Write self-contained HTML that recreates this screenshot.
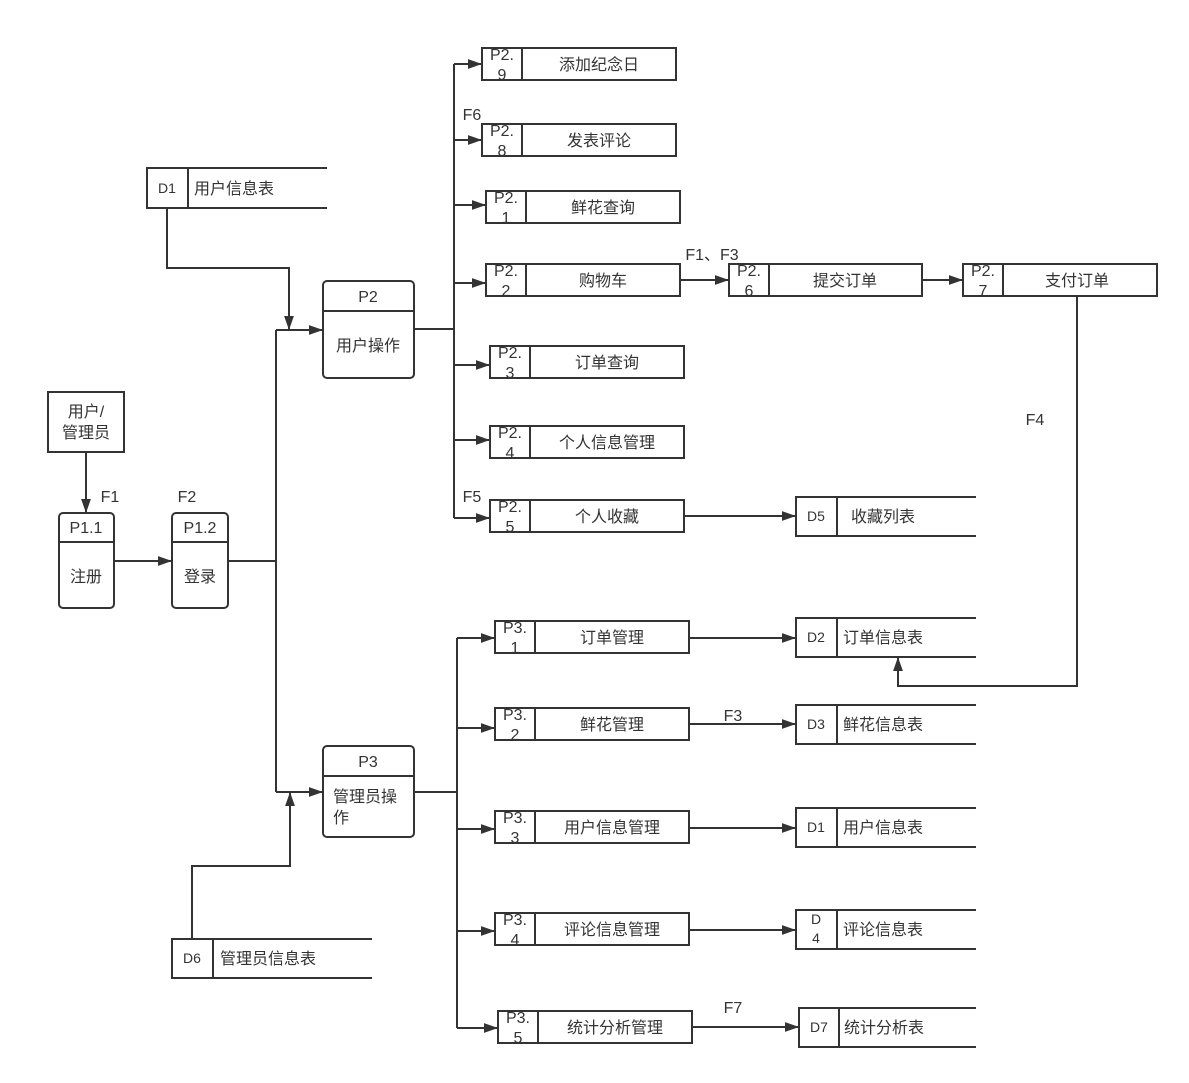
<!DOCTYPE html>
<html><head><meta charset="utf-8"><style>
html,body{margin:0;padding:0;background:#fff;}
svg text{font-family:"Liberation Sans","Noto Sans CJK SC",sans-serif;fill:#333;}
</style></head><body>
<svg width="1189" height="1078" viewBox="0 0 1189 1078" xmlns="http://www.w3.org/2000/svg">
<defs><marker id="a" viewBox="0 0 10 10" refX="10" refY="5" markerWidth="8" markerHeight="8" markerUnits="userSpaceOnUse" orient="auto"><path d="M0,0L10,5L0,10z" fill="#333"/></marker>
<marker id="b" viewBox="0 0 10 10" refX="10" refY="5" markerWidth="14" markerHeight="14" markerUnits="userSpaceOnUse" orient="auto"><path d="M0,1.5L10,5L0,8.5z" fill="#333"/></marker></defs>
<g fill="none" stroke="#333" stroke-width="2">
<!-- entity -->
<rect x="48" y="392" width="76" height="60"/>
<!-- processes -->
<rect x="59" y="513" width="55" height="95" rx="4"/><line x1="59" y1="542" x2="114" y2="542"/>
<rect x="172" y="513" width="56" height="95" rx="4"/><line x1="172" y1="542" x2="228" y2="542"/>
<rect x="323" y="281" width="91" height="97" rx="4"/><line x1="323" y1="311" x2="414" y2="311"/>
<rect x="323" y="746" width="91" height="91" rx="4"/><line x1="323" y1="776" x2="414" y2="776"/>
<!-- subprocesses -->
<rect x="482" y="48" width="194" height="32"/><line x1="522" y1="48" x2="522" y2="80"/>
<rect x="482" y="124" width="194" height="32"/><line x1="522" y1="124" x2="522" y2="156"/>
<rect x="486" y="191" width="194" height="32"/><line x1="526" y1="191" x2="526" y2="223"/>
<rect x="486" y="264" width="194" height="32"/><line x1="526" y1="264" x2="526" y2="296"/>
<rect x="729" y="264" width="193" height="32"/><line x1="769" y1="264" x2="769" y2="296"/>
<rect x="963" y="264" width="194" height="32"/><line x1="1003" y1="264" x2="1003" y2="296"/>
<rect x="490" y="346" width="194" height="32"/><line x1="530" y1="346" x2="530" y2="378"/>
<rect x="490" y="426" width="194" height="32"/><line x1="530" y1="426" x2="530" y2="458"/>
<rect x="490" y="500" width="194" height="32"/><line x1="530" y1="500" x2="530" y2="532"/>
<rect x="495" y="621" width="194" height="32"/><line x1="535" y1="621" x2="535" y2="653"/>
<rect x="495" y="708" width="194" height="32"/><line x1="535" y1="708" x2="535" y2="740"/>
<rect x="495" y="811" width="194" height="32"/><line x1="535" y1="811" x2="535" y2="843"/>
<rect x="495" y="913" width="194" height="32"/><line x1="535" y1="913" x2="535" y2="945"/>
<rect x="498" y="1011" width="194" height="32"/><line x1="538" y1="1011" x2="538" y2="1043"/>
<!-- data stores -->
<path d="M327,168H147V208H327M188,168V208"/>
<path d="M976,497H796V536H976M837,497V536"/>
<path d="M976,618H796V657H976M837,618V657"/>
<path d="M976,705H796V744H976M837,705V744"/>
<path d="M976,808H796V847H976M837,808V847"/>
<path d="M976,910H796V949H976M837,910V949"/>
<path d="M976,1008H799V1047H976M839,1008V1047"/>
<path d="M372,939H172V978H372M213,939V978"/>
<!-- connectors -->
<path d="M86,452V513" marker-end="url(#b)"/>
<path d="M114,561H172" marker-end="url(#b)"/>
<path d="M228,561H276M276,330V792"/>
<path d="M276,330H323" marker-end="url(#b)"/>
<path d="M276,792H323" marker-end="url(#b)"/>
<path d="M167,208V268H289V330" marker-end="url(#b)"/>
<path d="M192,939V866H290V792" marker-end="url(#b)"/>
<path d="M414,329H454M454,64V518"/>
<path d="M454,64H482" marker-end="url(#b)"/>
<path d="M454,140H482" marker-end="url(#b)"/>
<path d="M454,205H486" marker-end="url(#b)"/>
<path d="M454,283H486" marker-end="url(#b)"/>
<path d="M454,365H490" marker-end="url(#b)"/>
<path d="M454,440H490" marker-end="url(#b)"/>
<path d="M454,518H490" marker-end="url(#b)"/>
<path d="M680,280H729" marker-end="url(#b)"/>
<path d="M922,280H963" marker-end="url(#b)"/>
<path d="M1077,296V686H898V657" marker-end="url(#b)"/>
<path d="M684,516H796" marker-end="url(#b)"/>
<path d="M414,792H457M457,638V1028"/>
<path d="M457,638H495" marker-end="url(#b)"/>
<path d="M457,728H495" marker-end="url(#b)"/>
<path d="M457,829H495" marker-end="url(#b)"/>
<path d="M457,931H495" marker-end="url(#b)"/>
<path d="M457,1028H498" marker-end="url(#b)"/>
<path d="M689,638H796" marker-end="url(#b)"/>
<path d="M689,724H796" marker-end="url(#b)"/>
<path d="M689,828H796" marker-end="url(#b)"/>
<path d="M689,930H796" marker-end="url(#b)"/>
<path d="M692,1027H799" marker-end="url(#b)"/>
</g>
<g font-size="16" text-anchor="middle">
<text x="86" y="417">用户/</text><text x="86" y="438">管理员</text>
<text x="86" y="533">P1.1</text><text x="86" y="582">注册</text>
<text x="200" y="533">P1.2</text><text x="200" y="582">登录</text>
<text x="368" y="302">P2</text><text x="368" y="351">用户操作</text>
<text x="368" y="767">P3</text>
<text x="110" y="502">F1</text><text x="187" y="502">F2</text>
<text x="472" y="120">F6</text><text x="472" y="502">F5</text>
<text x="712" y="260">F1、F3</text><text x="1035" y="425">F4</text>
<text x="733" y="721">F3</text><text x="733" y="1013">F7</text>
<g font-size="16">
<text x="502" y="60">P2.</text><text x="502" y="80">9</text><text x="599" y="70">添加纪念日</text>
<text x="502" y="136">P2.</text><text x="502" y="156">8</text><text x="599" y="146">发表评论</text>
<text x="506" y="203">P2.</text><text x="506" y="223">1</text><text x="603" y="213">鲜花查询</text>
<text x="506" y="276">P2.</text><text x="506" y="296">2</text><text x="603" y="286">购物车</text>
<text x="749" y="276">P2.</text><text x="749" y="296">6</text><text x="845" y="286">提交订单</text>
<text x="983" y="276">P2.</text><text x="983" y="296">7</text><text x="1077" y="286">支付订单</text>
<text x="510" y="358">P2.</text><text x="510" y="378">3</text><text x="607" y="368">订单查询</text>
<text x="510" y="438">P2.</text><text x="510" y="458">4</text><text x="607" y="448">个人信息管理</text>
<text x="510" y="512">P2.</text><text x="510" y="532">5</text><text x="607" y="522">个人收藏</text>
<text x="515" y="633">P3.</text><text x="515" y="653">1</text><text x="612" y="643">订单管理</text>
<text x="515" y="720">P3.</text><text x="515" y="740">2</text><text x="612" y="730">鲜花管理</text>
<text x="515" y="823">P3.</text><text x="515" y="843">3</text><text x="612" y="833">用户信息管理</text>
<text x="515" y="925">P3.</text><text x="515" y="945">4</text><text x="612" y="935">评论信息管理</text>
<text x="518" y="1023">P3.</text><text x="518" y="1043">5</text><text x="615" y="1033">统计分析管理</text>
</g>
</g>
<g font-size="16" text-anchor="start">
<text x="333" y="802">管理员操</text><text x="333" y="823">作</text>
<text x="194" y="194">用户信息表</text>
<text x="851" y="522">收藏列表</text>
<text x="843" y="643">订单信息表</text>
<text x="843" y="730">鲜花信息表</text>
<text x="843" y="833">用户信息表</text>
<text x="843" y="935">评论信息表</text>
<text x="844" y="1033">统计分析表</text>
<text x="220" y="964">管理员信息表</text>
</g>
<g font-size="14" text-anchor="middle">
<text x="167" y="193">D1</text>
<text x="816" y="521">D5</text>
<text x="816" y="642">D2</text>
<text x="816" y="729">D3</text>
<text x="816" y="832">D1</text>
<text x="816" y="924">D</text><text x="816" y="943">4</text>
<text x="819" y="1032">D7</text>
<text x="192" y="963">D6</text>
</g>
</svg>
</body></html>
